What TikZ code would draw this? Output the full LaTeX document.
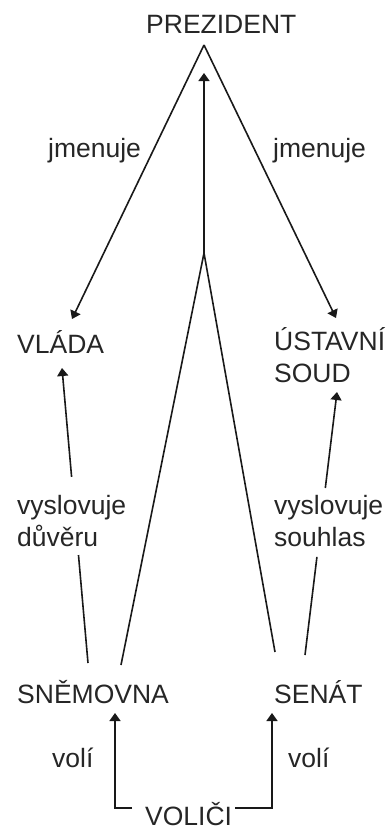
\documentclass[tikz,border=0pt]{standalone}
\usepackage{fontspec}
\setmainfont{Liberation Sans}
\usetikzlibrary{arrows.meta,calc}
\begin{document}
\begin{tikzpicture}[x=1pt,y=-1pt,
  txt/.style={inner sep=0pt,anchor=base west,text=black!85,font=\fontsize{26.5}{31}\selectfont},
  mtxt/.style={inner sep=0pt,anchor=north west,align=left,text=black!85,font=\fontsize{26.5}{32}\selectfont},
  conn/.style={draw=black!90,line width=1.6pt},
  arr/.style={conn,-{Triangle[width=11pt,length=8pt]}}]
\useasboundingbox (0,0) rectangle (390,831);
% nodes
\node[txt] (prez) at (146,33) {PREZIDENT};
\node[txt] (vlada) at (17,353) {VLÁDA};
\node[mtxt] (soud) at (274,327) {ÚSTAVNÍ\\SOUD};
\node[txt] (sne) at (17,703) {SNĚMOVNA};
\node[txt] (senat) at (274,703) {SENÁT};
\node[txt] (volici) at (145,825) {VOLIČI};
\node[txt] (jm1) at (48,157) {jmenuje};
\node[txt] (jm2) at (273,157) {jmenuje};
\node[mtxt] (vd) at (17,495) {vyslovuje\\důvěru};
\node[mtxt] (vs) at (274,495) {vyslovuje\\souhlas};
\node[txt] (vo1) at (52,767) {volí};
\node[txt] (vo2) at (288,767) {volí};
% connector ends
\coordinate (apex) at (204,45);
\coordinate (vlada-in) at (72,319);
\coordinate (soud-in) at (336,318);
\coordinate (junc) at (204,253);
\coordinate (prez-in) at (204,73);
\coordinate (sne-top) at (121,665);
\coordinate (sen-top) at (275,652);
\coordinate (sne-l) at (88,663);
\coordinate (vlada-b) at (62,368);
\coordinate (sen-r) at (305,655);
\coordinate (soud-b) at (337,392);
\coordinate (vol-l) at (132,808);
\coordinate (vol-r) at (235,808);
\coordinate (sne-b) at (115,713);
\coordinate (sen-b) at (272,713);
% connectors
\draw[arr] (apex) -- (vlada-in);
\draw[arr] (apex) -- (soud-in);
\draw[arr] (junc) -- (prez-in);
\draw[conn] (sne-top) -- (junc) -- (sen-top);
\draw[conn] (sne-l) -- ($(sne-l)!0.366!(vlada-b)$);
\draw[arr] ($(sne-l)!0.631!(vlada-b)$) -- (vlada-b);
\draw[conn] (sen-r) -- ($(sen-r)!0.373!(soud-b)$);
\draw[arr] ($(sen-r)!0.635!(soud-b)$) -- (soud-b);
\draw[arr] (vol-l) -- (sne-b |- vol-l) -- (sne-b);
\draw[arr] (vol-r) -- (sen-b |- vol-r) -- (sen-b);
\end{tikzpicture}
\end{document}
